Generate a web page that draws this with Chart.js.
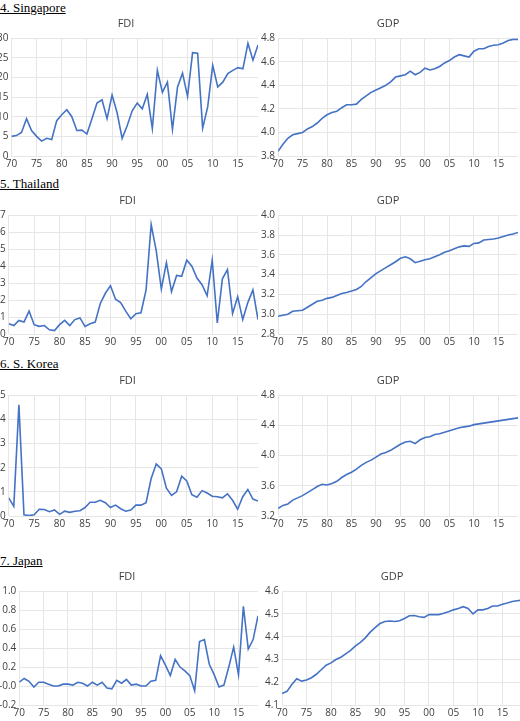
<!DOCTYPE html>
<html><head><meta charset="utf-8">
<script src="https://cdn.jsdelivr.net/npm/chart.js@4/dist/chart.umd.min.js"></script>
<style>
body{margin:0;background:#fff;width:520px;height:721px;position:relative;overflow:hidden}
.h{position:absolute;left:0;font-family:"Liberation Serif",serif;font-size:13px;text-decoration:underline;color:#000}
.c{position:absolute}
</style></head><body>
<div class="h" style="top:0px">4. Singapore</div>
<div class="h" style="top:176px">5. Thailand</div>
<div class="h" style="top:356px">6. S. Korea</div>
<div class="h" style="top:553px">7. Japan</div>
<div class="c" style="left:-6px;top:13px;width:266px;height:159px"><canvas id="c1"></canvas></div>
<div class="c" style="left:258px;top:13px;width:262px;height:159px"><canvas id="c2"></canvas></div>
<div class="c" style="left:-3px;top:190px;width:263px;height:160px"><canvas id="c3"></canvas></div>
<div class="c" style="left:258px;top:190px;width:262px;height:160px"><canvas id="c4"></canvas></div>
<div class="c" style="left:-3px;top:370px;width:263px;height:162px"><canvas id="c5"></canvas></div>
<div class="c" style="left:258px;top:370px;width:262px;height:162px"><canvas id="c6"></canvas></div>
<div class="c" style="left:-4px;top:566px;width:264px;height:155px"><canvas id="c7"></canvas></div>
<div class="c" style="left:262px;top:566px;width:262px;height:155px"><canvas id="c8"></canvas></div>
<script>
const years=[];for(let y=1970;y<=2019;y++)years.push(y);
const sgFDI=[5,5.2,6,9.5,6.5,5,3.8,4.5,4.2,9,10.5,11.8,10,6.5,6.6,5.6,9.5,13.5,14.3,9.5,15.5,11,4.5,7.7,11.5,13.5,12,15.7,7,21.8,16.2,18.8,6.8,17.5,21.1,15.2,26.3,26.2,7.1,12.5,23.1,17.6,18.8,21,21.8,22.5,22.2,28.7,24.4,28.3];
const sgGDP=[3.84,3.9,3.95,3.98,3.99,4.0,4.03,4.05,4.08,4.12,4.15,4.17,4.18,4.21,4.235,4.235,4.24,4.28,4.31,4.34,4.36,4.38,4.40,4.43,4.47,4.48,4.49,4.52,4.49,4.51,4.545,4.53,4.54,4.56,4.59,4.61,4.64,4.66,4.65,4.64,4.69,4.71,4.71,4.73,4.74,4.745,4.76,4.78,4.79,4.79];
const thFDI=[0.6,0.5,0.8,0.7,1.35,0.55,0.45,0.5,0.25,0.2,0.55,0.8,0.5,0.85,0.95,0.45,0.6,0.7,1.8,2.4,2.85,2.05,1.85,1.35,0.9,1.2,1.25,2.6,6.45,4.9,2.65,4.2,2.5,3.45,3.4,4.35,4.0,3.3,2.9,2.25,4.35,0.65,3.25,3.8,1.2,2.2,0.85,1.85,2.6,0.85];
const thGDP=[2.98,2.99,3.0,3.03,3.035,3.04,3.07,3.1,3.13,3.14,3.16,3.17,3.19,3.21,3.22,3.235,3.25,3.28,3.33,3.37,3.41,3.44,3.47,3.5,3.53,3.565,3.58,3.56,3.52,3.535,3.55,3.56,3.58,3.60,3.625,3.64,3.66,3.68,3.69,3.685,3.715,3.72,3.75,3.755,3.76,3.77,3.785,3.80,3.81,3.825];
const krFDI=[0.75,0.4,4.6,0.05,0.02,0.05,0.28,0.27,0.18,0.25,0.07,0.2,0.15,0.2,0.22,0.35,0.57,0.57,0.65,0.55,0.35,0.45,0.3,0.2,0.25,0.45,0.45,0.55,1.55,2.15,1.95,1.15,0.85,1.0,1.65,1.45,0.88,0.78,1.05,0.95,0.82,0.8,0.75,0.92,0.65,0.28,0.8,1.1,0.7,0.62];
const krGDP=[3.3,3.34,3.36,3.41,3.44,3.47,3.51,3.55,3.59,3.62,3.61,3.63,3.66,3.71,3.75,3.78,3.82,3.87,3.91,3.94,3.98,4.02,4.04,4.07,4.11,4.15,4.18,4.19,4.16,4.21,4.24,4.25,4.28,4.29,4.31,4.33,4.35,4.37,4.38,4.39,4.41,4.42,4.43,4.44,4.45,4.46,4.47,4.48,4.49,4.50];
const jpFDI=[0.04,0.08,0.05,-0.01,0.04,0.04,0.02,0,0,0.02,0.02,0.01,0.04,0.03,0,0.04,0.01,0.04,-0.02,-0.03,0.06,0.03,0.07,0.01,0.02,0,0,0.05,0.06,0.32,0.22,0.11,0.28,0.2,0.16,0.11,-0.05,0.47,0.49,0.23,0.12,-0.01,0.01,0.2,0.41,0.12,0.84,0.39,0.49,0.74];
const jpGDP=[4.15,4.16,4.19,4.215,4.205,4.21,4.22,4.235,4.255,4.275,4.285,4.30,4.31,4.325,4.34,4.36,4.375,4.395,4.42,4.44,4.458,4.467,4.469,4.467,4.47,4.48,4.492,4.493,4.488,4.485,4.497,4.497,4.497,4.503,4.51,4.518,4.524,4.532,4.524,4.5,4.518,4.518,4.524,4.535,4.535,4.543,4.548,4.555,4.558,4.561];
const F='"Open Sans", sans-serif';
function mk(id,title,vals,min,max,step,dec){
  new Chart(document.getElementById(id),{type:'line',
    data:{datasets:[{data:years.map((y,i)=>({x:y,y:vals[i]})),borderColor:'#4472C4',borderWidth:1.6,pointRadius:0,tension:0}]},
    options:{responsive:true,maintainAspectRatio:false,animation:false,
      layout:{padding:{top:0,right:2,bottom:0,left:0}},
      plugins:{legend:{display:false},tooltip:{enabled:false},
        title:{display:true,text:title,color:'#404040',font:{family:F,size:11,weight:'normal'},padding:{top:4,bottom:8}}},
      scales:{
        x:{type:'linear',min:1970,max:2019,grid:{color:'#e6e6e6',drawTicks:false},border:{display:false},
          ticks:{stepSize:5,autoSkip:false,color:'#404040',font:{family:F,size:10},padding:2,maxRotation:0,
            callback:v=>String(v%100).padStart(2,'0')},
          afterBuildTicks:a=>{a.ticks=[];for(let y=1970;y<=2015;y+=5)a.ticks.push({value:y});}},
        y:{min:min,max:max,grid:{color:'#e6e6e6',drawTicks:false},border:{display:false},
          ticks:{stepSize:step,color:'#404040',font:{family:F,size:10},padding:3,callback:v=>v.toFixed(dec)}}
      }}});
}
mk('c1','FDI',sgFDI,0,30,5,0);
mk('c2','GDP',sgGDP,3.8,4.8,0.2,1);
mk('c3','FDI',thFDI,0,7,1,0);
mk('c4','GDP',thGDP,2.8,4.0,0.2,1);
mk('c5','FDI',krFDI,0,5,1,0);
mk('c6','GDP',krGDP,3.2,4.8,0.4,1);
mk('c7','FDI',jpFDI,-0.2,1.0,0.2,1);
mk('c8','GDP',jpGDP,4.1,4.6,0.1,1);
</script></body></html>
